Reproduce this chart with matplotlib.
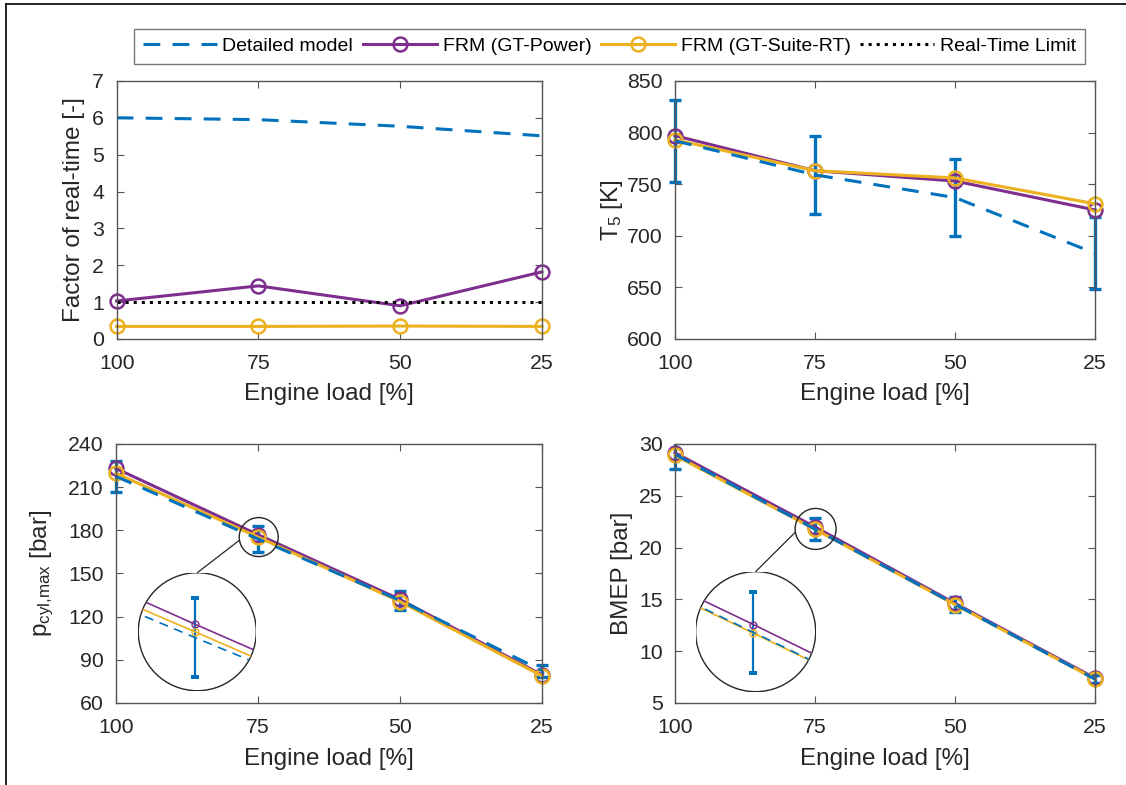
import matplotlib
matplotlib.use("Agg")
import matplotlib.pyplot as plt
from matplotlib.patches import Circle, ConnectionPatch, Rectangle
from matplotlib.lines import Line2D
from matplotlib.transforms import ScaledTranslation

plt.rcParams['font.family'] = ['Liberation Sans', 'DejaVu Sans']
plt.rcParams['mathtext.default'] = 'regular'

# engine load points (x axis, reversed)
loads = [100, 75, 50, 25]
load_ticks = [100, 75, 50, 25]

# factor of real-time [-]
rt_detailed = [6.00, 5.95, 5.77, 5.51]
rt_gtpower = [1.03, 1.44, 0.90, 1.82]
rt_gtsuite = [0.34, 0.34, 0.35, 0.34]
rt_limit = [1.0, 1.0, 1.0, 1.0]

# T5 [K]
t5_detailed = [792, 759, 737, 683]
t5_err = [40, 38, 37, 35]
t5_gtpower = [797, 763, 753, 725]
t5_gtsuite = [793, 763, 756, 731]

# p_cyl,max [bar]
pcyl_detailed = [217.5, 174.0, 131.3, 82.5]
pcyl_err = [10.9, 8.9, 6.6, 4.2]
pcyl_gtpower = [223.0, 177.0, 132.0, 79.5]
pcyl_gtsuite = [219.6, 175.3, 130.5, 78.8]

# BMEP [bar]
bmep_detailed = [29.0, 21.78, 14.53, 7.30]
bmep_err = [1.45, 1.09, 0.73, 0.37]
bmep_gtpower = [29.15, 21.99, 14.62, 7.40]
bmep_gtsuite = [28.90, 21.76, 14.50, 7.30]

labels = ["Detailed model", "FRM (GT-Power)", "FRM (GT-Suite-RT)", "Real-Time Limit"]

BLUE = "#0072BD"
PURPLE = "#7E2F8E"
YELLOW = "#EDB120"
TXT = "#262626"
EDGE = "#555555"

LW = 2.2
MS = 10
DASH = (5.5, 4)

fig = plt.figure(figsize=(11.26, 7.85), dpi=100)


def style_axes(ax, ylim, yticks, ylabel, ylab_x):
    ax.set_xlim(100, 25)
    ax.set_xticks(load_ticks)
    ax.set_ylim(*ylim)
    ax.set_yticks(yticks)
    ax.tick_params(direction='in', top=True, right=True, length=5, width=0.8,
                   colors=EDGE, labelcolor=TXT, labelsize=15.3, pad=9)
    ax.tick_params(axis='x', pad=11)
    for s in ax.spines.values():
        s.set_color(EDGE)
        s.set_linewidth(1.0)
    ax.set_xlabel("Engine load [%]", fontsize=17.5, color=TXT, va='center')
    ax.xaxis.set_label_coords(0.5, -0.215)
    ax.set_ylabel(ylabel, fontsize=17.5, color=TXT, va='center')
    ax.yaxis.set_label_coords(ylab_x, 0.5)


def draw_series(ax, det, err, gtp, gts, lw=LW, ms=MS, mew=1.8, cap=4, elw=2.4, clip=False):
    if err is None:
        ax.plot(loads, det, color=BLUE, lw=lw, ls='--', dashes=DASH, clip_on=clip)
    else:
        eb = ax.errorbar(loads, det, yerr=err, color=BLUE, lw=lw, ls='--', dashes=DASH,
                         elinewidth=elw, capsize=cap, capthick=elw)
        if not clip:
            # let caps reach past the side spines but stay inside vertically
            box = Rectangle((-0.1, 0), 1.2, 1, transform=ax.transAxes, visible=False)
            ax.add_patch(box)
            for art in list(eb.lines[1]) + list(eb.lines[2]):
                art.set_clip_path(box)
            eb.lines[0].set_clip_on(False)
    ax.plot(loads, gtp, color=PURPLE, lw=lw, marker='o', ms=ms, mfc='none', mew=mew, clip_on=clip)
    ax.plot(loads, gts, color=YELLOW, lw=lw, marker='o', ms=ms, mfc='none', mew=mew, clip_on=clip)


def zoom_inset(ax, rect, x0, y0, xhalf, yhalf, det, err, gtp, gts, r_small=0.2, ang_from=(-1.0, -0.17)):
    ins = fig.add_axes(rect)
    circ = Circle((0.5, 0.5), 0.5, transform=ins.transAxes, fc='white', ec=TXT, lw=1.0, zorder=1)
    ins.add_patch(circ)
    draw_series(ins, det, err, gtp, gts, lw=1.2, ms=5, mew=1.0, cap=3, elw=1.6, clip=True)
    ins.set_xlim(x0 + xhalf, x0 - xhalf)
    ins.set_ylim(y0 - yhalf, y0 + yhalf)
    ins.axis('off')
    for art in ins.lines + ins.collections:
        art.set_clip_path(circ)
    # small circle around the zoomed point, drawn in inches around data point
    trans = fig.dpi_scale_trans + ScaledTranslation(x0, y0, ax.transData)
    ax.add_patch(Circle((0, 0), r_small, transform=trans, fc='none', ec=TXT, lw=1.0,
                        clip_on=False, zorder=5))
    con = ConnectionPatch(xyA=(0.5, 1.0), coordsA=ins.transAxes,
                          xyB=(ang_from[0] * r_small, ang_from[1] * r_small), coordsB=trans,
                          color=TXT, lw=0.9)
    fig.add_artist(con)
    return ins


# top left: factor of real time
ax1 = fig.add_axes([0.1036, 0.5682, 0.3777, 0.3287])
h_det, = ax1.plot(loads, rt_detailed, color=BLUE, lw=LW, ls='--', dashes=DASH)
h_gtp, = ax1.plot(loads, rt_gtpower, color=PURPLE, lw=LW, marker='o', ms=MS, mfc='none', mew=1.8, clip_on=False)
h_gts, = ax1.plot(loads, rt_gtsuite, color=YELLOW, lw=LW, marker='o', ms=MS, mfc='none', mew=1.8, clip_on=False)
h_lim, = ax1.plot(loads, rt_limit, color='black', lw=2.2, ls=':')
style_axes(ax1, (0, 7), range(0, 8), "Factor of real-time [-]", -0.10)

# top right: T5
ax2 = fig.add_axes([0.5995, 0.5682, 0.3730, 0.3287])
draw_series(ax2, t5_detailed, t5_err, t5_gtpower, t5_gtsuite)
style_axes(ax2, (600, 850), range(600, 851, 50), "T$_5$ [K]", -0.15)

# bottom left: p_cyl,max
ax3 = fig.add_axes([0.1030, 0.1045, 0.3783, 0.3299])
draw_series(ax3, pcyl_detailed, pcyl_err, pcyl_gtpower, pcyl_gtsuite)
style_axes(ax3, (60, 240), range(60, 241, 30), "p$_{cyl{,}max}$ [bar]", -0.172)
zoom_inset(ax3, [0.1228, 0.1201, 0.1048, 0.1503], 74.87, 175.3, 3.2, 13.2,
           pcyl_detailed, pcyl_err, pcyl_gtpower, pcyl_gtsuite, r_small=0.195)

# bottom right: BMEP
ax4 = fig.add_axes([0.5995, 0.1045, 0.3730, 0.3299])
draw_series(ax4, bmep_detailed, bmep_err, bmep_gtpower, bmep_gtsuite)
style_axes(ax4, (5, 30), range(5, 31, 5), "BMEP [bar]", -0.126)
zoom_inset(ax4, [0.6178, 0.1189, 0.1066, 0.1529], 74.9, 21.8, 2.67, 1.6,
           bmep_detailed, bmep_err, bmep_gtpower, bmep_gtsuite, r_small=0.205)

leg = fig.legend([h_det, h_gtp, h_gts, h_lim], labels, loc='center',
                 bbox_to_anchor=(0.5413, 0.9408), ncol=4, frameon=True, fancybox=False,
                 edgecolor=EDGE, fontsize=14, handlelength=3.8, handletextpad=0.3,
                 columnspacing=0.5, borderpad=0.45, borderaxespad=0)
leg.get_frame().set_linewidth(1.0)

# crop frame lines (top and left edge)
fig.add_artist(Line2D([0.0049, 1.0], [0.9949, 0.9949], transform=fig.transFigure, color='black', lw=1.2))
fig.add_artist(Line2D([0.0049, 0.0049], [0.0, 0.9949], transform=fig.transFigure, color='black', lw=1.2))

fig.savefig("out.png", dpi=100)
